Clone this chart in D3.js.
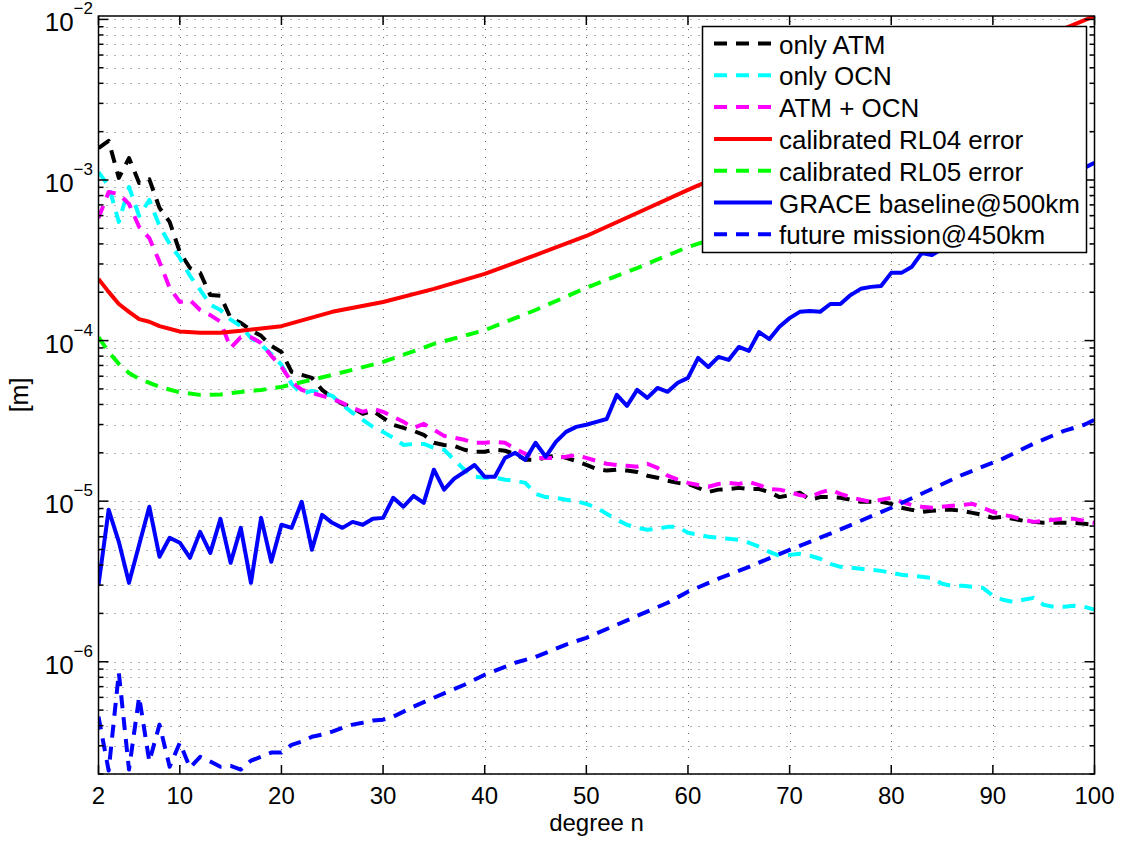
<!DOCTYPE html>
<html>
<head>
<meta charset="utf-8">
<script src="https://cdn.jsdelivr.net/npm/d3@7"></script>
<style>
  body { margin: 0; background: #fff; }
  svg { display: block; font-family: "Liberation Sans", Arial, Helvetica, sans-serif; }
</style>
</head>
<body>
<div id="chart"></div>
<script>
// spherical harmonic degree n = 2..100
const degrees = d3.range(2, 101);

const onlyATM = [
  1.58e-3, 1.75e-3, 1.03e-3, 1.37e-3, 9.58e-4, 1.01e-3, 6.70e-4, 5.48e-4, 3.56e-4, 2.83e-4,
  2.64e-4, 1.92e-4, 1.90e-4, 1.38e-4, 1.29e-4, 1.16e-4, 1.07e-4, 9.27e-5, 8.49e-5, 6.38e-5,
  6.11e-5, 5.86e-5, 4.93e-5, 4.40e-5, 4.04e-5, 3.81e-5, 3.50e-5, 3.65e-5, 3.30e-5, 2.99e-5,
  2.86e-5, 2.74e-5, 2.59e-5, 2.31e-5, 2.24e-5, 2.21e-5, 2.09e-5, 2.03e-5, 2.03e-5, 2.09e-5,
  2.06e-5, 1.97e-5, 1.81e-5, 1.81e-5, 1.86e-5, 1.94e-5, 1.86e-5, 1.78e-5, 1.68e-5, 1.59e-5,
  1.55e-5, 1.57e-5, 1.55e-5, 1.52e-5, 1.44e-5, 1.40e-5, 1.34e-5, 1.30e-5, 1.28e-5, 1.21e-5,
  1.14e-5, 1.18e-5, 1.19e-5, 1.21e-5, 1.19e-5, 1.19e-5, 1.14e-5, 1.06e-5, 1.09e-5, 1.13e-5,
  1.02e-5, 1.06e-5, 1.06e-5, 1.05e-5, 1.02e-5, 9.91e-6, 9.91e-6, 9.91e-6, 9.62e-6, 9.10e-6,
  8.83e-6, 8.59e-6, 8.71e-6, 8.83e-6, 8.83e-6, 8.71e-6, 8.45e-6, 8.22e-6, 7.87e-6, 7.99e-6,
  7.76e-6, 7.55e-6, 7.43e-6, 7.33e-6, 7.33e-6, 7.33e-6, 7.33e-6, 7.23e-6, 7.13e-6
];

const onlyOCN = [
  1.12e-3, 9.18e-4, 5.48e-4, 9.04e-4, 5.97e-4, 7.51e-4, 5.18e-4, 4.00e-4, 3.27e-4, 2.53e-4,
  2.07e-4, 1.67e-4, 1.55e-4, 1.35e-4, 1.23e-4, 1.04e-4, 9.40e-5, 8.26e-5, 7.06e-5, 5.37e-5,
  4.66e-5, 4.86e-5, 4.72e-5, 4.53e-5, 3.98e-5, 3.55e-5, 3.21e-5, 2.90e-5, 2.70e-5, 2.48e-5,
  2.24e-5, 2.27e-5, 2.27e-5, 2.15e-5, 2.09e-5, 1.81e-5, 1.57e-5, 1.42e-5, 1.40e-5, 1.40e-5,
  1.36e-5, 1.34e-5, 1.30e-5, 1.11e-5, 1.06e-5, 1.05e-5, 1.02e-5, 1.00e-5, 9.62e-6, 9.10e-6,
  8.34e-6, 7.66e-6, 7.13e-6, 6.82e-6, 6.64e-6, 6.73e-6, 6.92e-6, 6.92e-6, 6.35e-6, 6.18e-6,
  6.00e-6, 5.92e-6, 5.83e-6, 5.74e-6, 5.51e-6, 5.20e-6, 4.84e-6, 4.57e-6, 4.63e-6, 4.70e-6,
  4.57e-6, 4.38e-6, 4.07e-6, 3.90e-6, 3.85e-6, 3.79e-6, 3.74e-6, 3.68e-6, 3.58e-6, 3.48e-6,
  3.43e-6, 3.38e-6, 3.33e-6, 3.06e-6, 2.97e-6, 2.97e-6, 2.93e-6, 2.89e-6, 2.58e-6, 2.43e-6,
  2.36e-6, 2.43e-6, 2.50e-6, 2.26e-6, 2.20e-6, 2.20e-6, 2.23e-6, 2.20e-6, 2.11e-6
];

const atmOcn = [
  5.80e-4, 8.42e-4, 8.18e-4, 7.10e-4, 5.10e-4, 4.35e-4, 3.09e-4, 2.13e-4, 1.74e-4, 1.79e-4,
  1.55e-4, 1.44e-4, 1.31e-4, 9.00e-5, 1.05e-4, 1.05e-4, 9.66e-5, 8.04e-5, 6.85e-5, 5.53e-5,
  4.93e-5, 4.72e-5, 4.53e-5, 4.34e-5, 4.09e-5, 3.81e-5, 3.60e-5, 3.76e-5, 3.60e-5, 3.35e-5,
  3.12e-5, 2.86e-5, 3.03e-5, 2.78e-5, 2.55e-5, 2.48e-5, 2.41e-5, 2.31e-5, 2.31e-5, 2.34e-5,
  2.31e-5, 2.12e-5, 1.97e-5, 1.86e-5, 1.86e-5, 1.86e-5, 1.89e-5, 1.94e-5, 1.86e-5, 1.78e-5,
  1.71e-5, 1.68e-5, 1.66e-5, 1.64e-5, 1.71e-5, 1.61e-5, 1.44e-5, 1.36e-5, 1.30e-5, 1.26e-5,
  1.23e-5, 1.28e-5, 1.30e-5, 1.28e-5, 1.32e-5, 1.26e-5, 1.19e-5, 1.18e-5, 1.14e-5, 1.09e-5,
  1.06e-5, 1.13e-5, 1.18e-5, 1.11e-5, 1.06e-5, 1.02e-5, 9.91e-6, 1.02e-5, 1.05e-5, 9.91e-6,
  9.48e-6, 9.23e-6, 9.10e-6, 9.23e-6, 9.35e-6, 9.48e-6, 9.62e-6, 9.10e-6, 8.59e-6, 8.22e-6,
  7.99e-6, 7.66e-6, 7.43e-6, 7.55e-6, 7.66e-6, 7.76e-6, 7.76e-6, 7.55e-6, 7.33e-6
];

const rl04Deg = [2, 3, 4, 5, 6, 7, 8, 10, 12, 14, 16, 18, 20, 25, 30, 35, 40, 45, 50, 55, 60, 65, 70, 75, 80, 85, 90, 95, 100];
const rl04Err = [
  2.42e-4, 2.01e-4, 1.69e-4, 1.51e-4, 1.36e-4, 1.31e-4, 1.23e-4, 1.14e-4, 1.12e-4, 1.12e-4,
  1.15e-4, 1.19e-4, 1.23e-4, 1.51e-4, 1.74e-4, 2.10e-4, 2.60e-4, 3.41e-4, 4.48e-4, 6.23e-4,
  8.67e-4, 1.19e-3, 1.63e-3, 2.23e-3, 3.06e-3, 4.19e-3, 5.74e-3, 7.76e-3, 1.05e-2
];

const rl05Deg = [2, 3, 4, 5, 6, 8, 10, 12, 14, 16, 18, 20, 25, 30, 35, 40, 45, 50, 55, 60, 70, 80, 90];
const rl05Err = [
  1.05e-4, 8.49e-5, 7.16e-5, 6.29e-5, 5.77e-5, 5.15e-5, 4.76e-5, 4.59e-5, 4.62e-5, 4.79e-5,
  4.93e-5, 5.15e-5, 6.11e-5, 7.36e-5, 9.53e-5, 1.16e-4, 1.55e-4, 2.13e-4, 2.83e-4, 3.83e-4,
  6.06e-4, 1.00e-3, 1.77e-3
];

const graceDeg = d3.range(2, 85).concat([86, 88, 90, 92, 94, 96, 98, 99, 100]);
const graceBaseline = [
  3.01e-6, 8.83e-6, 5.58e-6, 3.10e-6, 5.35e-6, 9.23e-6, 4.51e-6, 5.92e-6, 5.51e-6, 4.44e-6,
  6.44e-6, 4.76e-6, 7.76e-6, 4.13e-6, 6.82e-6, 3.10e-6, 7.87e-6, 4.19e-6, 7.13e-6, 6.82e-6,
  9.91e-6, 4.98e-6, 8.22e-6, 7.33e-6, 6.82e-6, 7.43e-6, 7.13e-6, 7.76e-6, 7.87e-6, 1.05e-5,
  9.23e-6, 1.08e-5, 9.77e-6, 1.57e-5, 1.18e-5, 1.38e-5, 1.52e-5, 1.68e-5, 1.42e-5, 1.42e-5,
  1.86e-5, 2.00e-5, 1.81e-5, 2.31e-5, 1.89e-5, 2.34e-5, 2.70e-5, 2.90e-5, 2.99e-5, 3.12e-5,
  3.25e-5, 4.59e-5, 3.92e-5, 4.93e-5, 4.40e-5, 5.07e-5, 4.80e-5, 5.46e-5, 5.86e-5, 7.80e-5,
  6.85e-5, 7.91e-5, 7.58e-5, 9.13e-5, 8.63e-5, 1.13e-4, 1.02e-4, 1.22e-4, 1.38e-4, 1.51e-4,
  1.53e-4, 1.51e-4, 1.69e-4, 1.69e-4, 1.92e-4, 2.10e-4, 2.16e-4, 2.19e-4, 2.64e-4, 2.64e-4,
  2.87e-4, 3.51e-4, 3.41e-4,
  4.06e-4, 4.74e-4, 5.48e-4, 6.50e-4, 7.51e-4, 9.18e-4, 1.07e-3, 1.19e-3, 1.28e-3
];

const futureDeg = d3.range(2, 32).concat([33, 35, 38, 40, 43, 45, 48, 50, 53, 55, 58, 60, 63, 66, 70, 74, 77, 80, 84, 87, 91, 94, 97, 99, 100]);
const futureMission = [
  4.55e-7, 2.10e-7, 8.55e-7, 2.13e-7, 6.05e-7, 2.39e-7, 4.06e-7, 2.22e-7, 3.13e-7, 2.19e-7,
  2.56e-7, 2.39e-7, 2.22e-7, 2.25e-7, 2.13e-7, 2.42e-7, 2.56e-7, 2.72e-7, 2.72e-7, 3.04e-7,
  3.18e-7, 3.41e-7, 3.52e-7, 3.67e-7, 3.88e-7, 4.06e-7, 4.17e-7, 4.30e-7, 4.36e-7, 4.55e-7,
  5.25e-7, 5.97e-7, 7.19e-7, 8.30e-7, 9.86e-7, 1.07e-6, 1.28e-6, 1.41e-6, 1.70e-6, 1.93e-6,
  2.33e-6, 2.73e-6, 3.29e-6, 3.90e-6, 4.98e-6, 6.27e-6, 7.55e-6, 9.10e-6, 1.19e-5, 1.46e-5,
  1.84e-5, 2.28e-5, 2.74e-5, 2.99e-5, 3.21e-5
];

const xTicks = [2, 10, 20, 30, 40, 50, 60, 70, 80, 90, 100];
const yMajor = [1e-2, 1e-3, 1e-4, 1e-5, 1e-6];

const series = [
  { label: "only ATM", deg: degrees, val: onlyATM, color: "#000000", dashed: true },
  { label: "only OCN", deg: degrees, val: onlyOCN, color: "#00ffff", dashed: true },
  { label: "ATM + OCN", deg: degrees, val: atmOcn, color: "#ff00ff", dashed: true },
  { label: "calibrated RL04 error", deg: rl04Deg, val: rl04Err, color: "#ff0000", dashed: false },
  { label: "calibrated RL05 error", deg: rl05Deg, val: rl05Err, color: "#00ff00", dashed: true },
  { label: "GRACE baseline@500km", deg: graceDeg, val: graceBaseline, color: "#0000ff", dashed: false },
  { label: "future mission@450km", deg: futureDeg, val: futureMission, color: "#0000ff", dashed: true }
];

const W = 1132, H = 843;
const plot = { left: 98.5, right: 1094.5, top: 16, bottom: 774 };
const dash = "13,9";
const lw = 4;

const svg = d3.select("#chart").append("svg")
  .attr("width", W).attr("height", H);

const x = d3.scaleLinear().domain([2, 100]).range([plot.left, plot.right]);
const y = d3.scaleLog().domain([2e-7, 1.05e-2]).range([plot.bottom, plot.top]);

svg.append("defs").append("clipPath").attr("id", "plot-clip")
  .append("rect")
  .attr("x", plot.left).attr("y", plot.top)
  .attr("width", plot.right - plot.left).attr("height", plot.bottom - plot.top);

// dotted grid
const grid = svg.append("g").attr("stroke", "#666").attr("stroke-width", 1).attr("stroke-dasharray", "1,7");
grid.selectAll(".gx").data(xTicks.slice(1, -1)).join("line")
  .attr("x1", d => Math.round(x(d)) + 0.5).attr("x2", d => Math.round(x(d)) + 0.5)
  .attr("y1", plot.bottom).attr("y2", plot.top);
grid.selectAll(".gy").data(y.ticks()).join("line")
  .attr("x1", plot.left).attr("x2", plot.right)
  .attr("y1", d => Math.round(y(d)) + 0.5).attr("y2", d => Math.round(y(d)) + 0.5);

// data lines
const line = d3.line().x(d => x(d[0])).y(d => y(d[1]));
const lines = svg.append("g").attr("clip-path", "url(#plot-clip)");
series.forEach(s => {
  lines.append("path")
    .datum(s.deg.map((n, i) => [n, s.val[i]]))
    .attr("d", line)
    .attr("fill", "none")
    .attr("stroke", s.color)
    .attr("stroke-width", lw)
    .attr("stroke-linejoin", "round")
    .attr("stroke-dasharray", s.dashed ? dash : null);
});

// box and ticks
const axes = svg.append("g").attr("stroke", "#000").attr("stroke-width", 1.5).attr("fill", "none");
axes.append("rect")
  .attr("x", plot.left).attr("y", plot.top)
  .attr("width", plot.right - plot.left).attr("height", plot.bottom - plot.top);

xTicks.forEach(t => {
  axes.append("line").attr("x1", x(t)).attr("x2", x(t)).attr("y1", plot.bottom).attr("y2", plot.bottom - 9);
  axes.append("line").attr("x1", x(t)).attr("x2", x(t)).attr("y1", plot.top).attr("y2", plot.top + 9);
});
y.ticks().forEach(t => {
  const major = yMajor.some(m => Math.abs(m - t) / m < 1e-6);
  const len = major ? 10 : 5;
  axes.append("line").attr("x1", plot.left).attr("x2", plot.left + len).attr("y1", y(t)).attr("y2", y(t));
  axes.append("line").attr("x1", plot.right).attr("x2", plot.right - len).attr("y1", y(t)).attr("y2", y(t));
});

// tick labels
const labels = svg.append("g").attr("fill", "#000").attr("font-size", 24);
labels.selectAll(".xl").data(xTicks).join("text")
  .attr("x", d => x(d)).attr("y", 804)
  .attr("text-anchor", "middle")
  .text(d => d);

yMajor.forEach(v => {
  const t = labels.append("text")
    .attr("x", 93).attr("y", y(v) + 12)
    .attr("font-size", 26)
    .attr("text-anchor", "end");
  t.append("tspan").text("10");
  t.append("tspan").attr("dy", -17).attr("font-size", 17).text("\u2212" + Math.round(-Math.log10(v)));
});

labels.append("text")
  .attr("x", (plot.left + plot.right) / 2).attr("y", 831)
  .attr("text-anchor", "middle")
  .text("degree n");

labels.append("text")
  .attr("transform", `translate(28,${(plot.top + plot.bottom) / 2}) rotate(-90)`)
  .attr("text-anchor", "middle")
  .attr("font-size", 25)
  .text("[m]");

// legend
const legend = svg.append("g");
legend.append("rect")
  .attr("x", 702.5).attr("y", 26.5).attr("width", 384).attr("height", 226)
  .attr("fill", "#fff").attr("stroke", "#000").attr("stroke-width", 1.5);

series.forEach((s, i) => {
  const ly = 43.5 + i * 31.8;
  legend.append("line")
    .attr("x1", 714).attr("x2", 772).attr("y1", ly).attr("y2", ly)
    .attr("stroke", s.color).attr("stroke-width", lw)
    .attr("stroke-dasharray", s.dashed ? dash : null);
  legend.append("text")
    .attr("x", 779).attr("y", ly + 10)
    .attr("font-size", 26)
    .text(s.label);
});
</script>
</body>
</html>
